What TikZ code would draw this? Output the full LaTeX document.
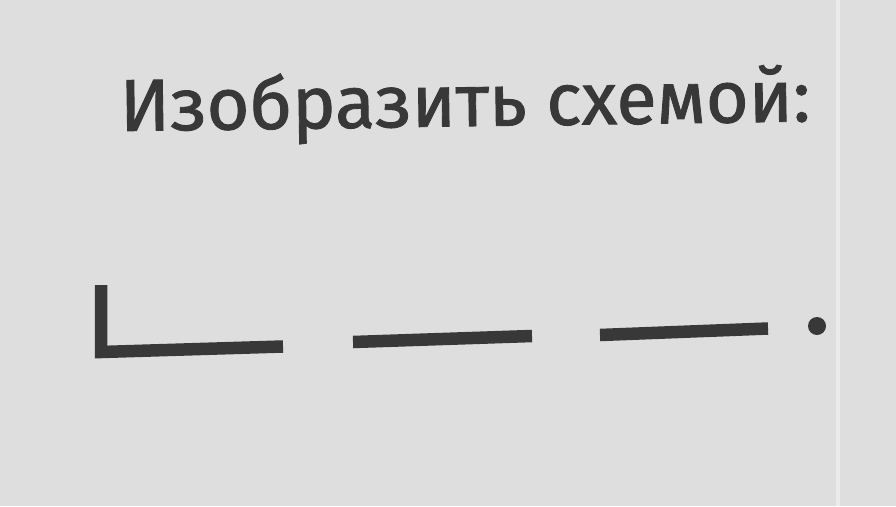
\documentclass[tikz,border=0pt]{standalone}
\usepackage{fontspec}
\setmainfont{Fira Sans}[FakeBold=1.2]
\definecolor{paper}{HTML}{DEDEDE}
\definecolor{ink}{HTML}{383838}
\tikzset{
  schemebar/.style={ink, line width=12.5pt},
}
\begin{document}
\begin{tikzpicture}[x=1pt, y=-1pt]

\def \w {896}
\def \h {506}

% paper
\fill[paper] (0,0) rectangle (\w,\h);
\useasboundingbox (0,0) rectangle (\w,\h);
\draw[white!40!paper, line width=4pt] (838,0) -- (838,\h);

% title
\node[ink, anchor=base west, rotate=0.8, inner sep=0pt, font=\fontsize{73.5}{78}\selectfont]
  (title) at (120,131) {Изобразить схемой:};

% sentence scheme
\draw[schemebar, line cap=butt] (101,285) -- (101,352) -- (283,346.5);
\draw[schemebar] (353,342) -- (532,336);
\draw[schemebar] (600,335) -- (768,328.5);
\fill[ink] (817,326) circle (9);
\end{tikzpicture}
\end{document}
